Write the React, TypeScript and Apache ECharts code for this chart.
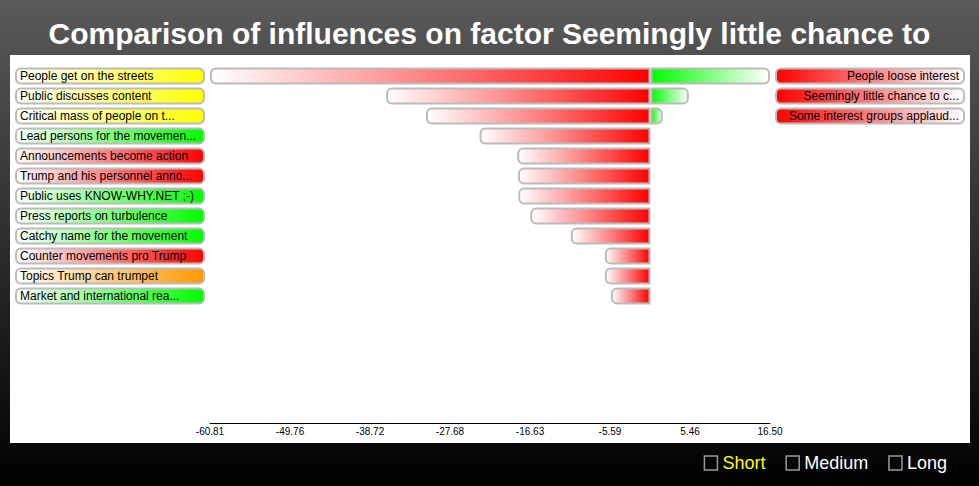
import React, { useEffect, useRef } from "react";
import * as echarts from "echarts";

const titleText = "Comparison of influences on factor Seemingly little chance to";

const leftLabels = [
  "People get on the streets",
  "Public discusses content",
  "Critical mass of people on t...",
  "Lead persons for the movemen...",
  "Announcements become action",
  "Trump and his personnel anno...",
  "Public uses KNOW-WHY.NET ;-)",
  "Press reports on turbulence",
  "Catchy name for the movement",
  "Counter movements pro Trump",
  "Topics Trump can trumpet",
  "Market and international rea...",
];

const leftLabelColors = [
  "#ffff00", "#ffff00", "#ffff00", "#00ff00", "#ff0000", "#ff0000",
  "#00ff00", "#00ff00", "#00ff00", "#ff0000", "#ff9900", "#00ff00",
];

const rightLabels = [
  "People loose interest",
  "Seemingly little chance to c...",
  "Some interest groups applaud...",
];

const negativeValues = [
  -60.81, -36.5, -31.0, -23.6, -18.4, -18.3, -18.25, -16.6, -11.0, -6.3, -6.3, -5.45,
];

const positiveValues: (number | null)[] = [
  16.5, 5.3, 1.7, null, null, null, null, null, null, null, null, null,
];

const tickValues = [-60.81, -49.76, -38.72, -27.68, -16.63, -5.59, 5.46, 16.5];

const legendNames = ["Short", "Medium", "Long"];
const legendColors = ["#ffff00", "#ffffff", "#ffffff"];

const FONT = "'Liberation Sans', Arial, Helvetica, sans-serif";
const BORDER = "#bbbbbb";

function hGrad(from: string, to: string) {
  return new echarts.graphic.LinearGradient(0, 0, 1, 0, [
    { offset: 0, color: from },
    { offset: 1, color: to },
  ]);
}

export default function App() {
  const ref = useRef<HTMLDivElement>(null);

  useEffect(() => {
    if (!ref.current) return;
    const chart = echarts.init(ref.current, undefined, { renderer: "svg" });

    const rowTop = 66;
    const rowsHeight = 240;
    const rowBottom = 486 - rowTop - rowsHeight;

    const option: any = {
      animation: false,
      backgroundColor: new echarts.graphic.LinearGradient(0, 0, 0, 1, [
        { offset: 0, color: "#5a5a5a" },
        { offset: 1, color: "#000000" },
      ]),
      title: {
        text: titleText,
        left: "center",
        top: 13,
        textStyle: {
          color: "#ffffff",
          fontSize: 30,
          fontWeight: "bold",
          fontFamily: FONT,
        },
      },
      graphic: [
        {
          type: "rect",
          z: -10,
          shape: { x: 10, y: 55, width: 960, height: 388 },
          style: { fill: "#ffffff" },
          silent: true,
        },
      ],
      legend: {
        data: legendNames.map((n, i) => ({
          name: n,
          textStyle: { color: legendColors[i] },
        })),
        right: 27,
        top: 449,
        icon: "rect",
        itemWidth: 13,
        itemHeight: 14,
        itemGap: 20,
        itemStyle: {
          color: "rgba(0,0,0,0)",
          borderColor: "#9a9a9a",
          borderWidth: 1.5,
        },
        textStyle: { fontSize: 18, fontFamily: FONT },
        selectedMode: false,
      },
      grid: [
        { left: 210, right: 209, top: rowTop, bottom: rowBottom },
        { left: 15, right: 774, top: rowTop, bottom: rowBottom },
        { left: 775, right: 14, top: rowTop, bottom: rowBottom },
      ],
      xAxis: [
        {
          gridIndex: 0,
          type: "value",
          min: tickValues[0],
          max: tickValues[tickValues.length - 1],
          position: "bottom",
          offset: 117,
          axisLine: { show: true, lineStyle: { color: "#000000", width: 1 } },
          axisTick: { show: false },
          splitLine: { show: false },
          axisLabel: {
            customValues: tickValues,
            formatter: (v: number) => v.toFixed(2),
            fontSize: 10,
            color: "#000000",
            fontFamily: FONT,
            margin: 3,
          },
        },
        { gridIndex: 1, type: "value", min: 0, max: 1, show: false },
        { gridIndex: 2, type: "value", min: 0, max: 1, show: false },
      ],
      yAxis: [0, 1, 2].map((g) => ({
        gridIndex: g,
        type: "category",
        inverse: true,
        data: leftLabels,
        show: false,
      })),
      series: [
        {
          name: "negative",
          type: "bar",
          xAxisIndex: 0,
          yAxisIndex: 0,
          barWidth: 17,
          barGap: "-100%",
          silent: true,
          data: negativeValues,
          itemStyle: {
            color: hGrad("#ffffff", "#ff0000"),
            borderColor: BORDER,
            borderWidth: 2,
            borderRadius: [5, 0, 0, 5],
          },
        },
        {
          name: "positive",
          type: "bar",
          xAxisIndex: 0,
          yAxisIndex: 0,
          barWidth: 17,
          barGap: "-100%",
          silent: true,
          data: positiveValues.map((v) => (v === null ? "-" : v)),
          itemStyle: {
            color: hGrad("#00ff00", "#ffffff"),
            borderColor: BORDER,
            borderWidth: 2,
            borderRadius: [0, 5, 5, 0],
          },
        },
        {
          name: "leftLabels",
          type: "bar",
          xAxisIndex: 1,
          yAxisIndex: 1,
          barWidth: 17,
          silent: true,
          data: leftLabels.map((_, i) => ({
            value: 1,
            itemStyle: { color: hGrad("#ffffff", leftLabelColors[i]) },
          })),
          itemStyle: {
            borderColor: BORDER,
            borderWidth: 2,
            borderRadius: 5,
          },
          label: {
            show: true,
            position: "insideLeft",
            distance: 5,
            formatter: "{b}",
            color: "#000000",
            fontSize: 12,
            fontFamily: FONT,
          },
        },
        {
          name: "rightLabels",
          type: "bar",
          xAxisIndex: 2,
          yAxisIndex: 2,
          barWidth: 17,
          silent: true,
          data: leftLabels.map((_, i) =>
            i < rightLabels.length ? 1 : "-"
          ),
          itemStyle: {
            color: hGrad("#ff0000", "#ffffff"),
            borderColor: BORDER,
            borderWidth: 2,
            borderRadius: 5,
          },
          label: {
            show: true,
            position: "insideRight",
            distance: 6,
            formatter: (p: any) => rightLabels[p.dataIndex] ?? "",
            color: "#000000",
            fontSize: 12,
            fontFamily: FONT,
          },
        },
        ...legendNames.map((n, i) => ({
          name: n,
          type: "line",
          xAxisIndex: 0,
          yAxisIndex: 0,
          data: [],
          color: legendColors[i],
        })),
      ],
    };

    chart.setOption(option);
    return () => chart.dispose();
  }, []);

  return (
    <div
      ref={ref}
      style={{ position: "absolute", left: 0, top: 0, width: 979, height: 486 }}
    />
  );
}
